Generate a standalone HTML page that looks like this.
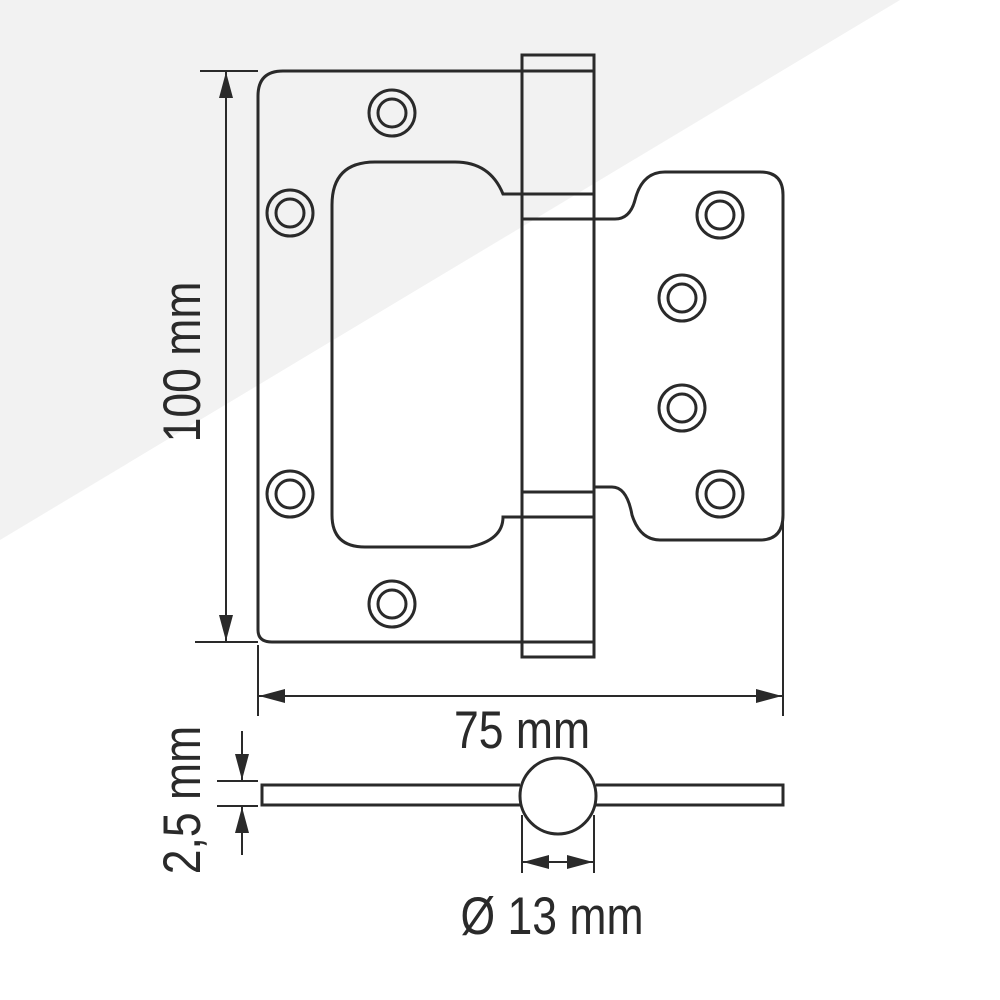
<!DOCTYPE html>
<html><head><meta charset="utf-8"><style>
html,body{margin:0;padding:0;background:#fff;}
svg{display:block;}
text{font-family:"Liberation Sans Narrow","Liberation Sans",sans-serif;fill:#2a2a2a;}
</style></head><body>
<svg width="1000" height="1000" viewBox="0 0 1000 1000">
<polygon points="0,0 900,0 0,540" fill="#f2f2f2"/>
<defs>
<marker id="a" viewBox="0 0 26 14" refX="26" refY="7" markerWidth="26" markerHeight="14" orient="auto-start-reverse" markerUnits="userSpaceOnUse"><path d="M0,0 L26,7 L0,14z" fill="#2a2a2a"/></marker>
</defs>
<g fill="none" stroke="#2a2a2a" stroke-width="3">
<path d="M522,71 L283,71 Q258,71 258,96 L258,630 Q258,642 272,642 L522,642"/>
<line x1="200" y1="71" x2="258" y2="71" stroke-width="2"/>
<line x1="195" y1="642" x2="258" y2="642" stroke-width="2"/>
<path d="M522,194 L503,194 Q490,162 455,162 L375,162 Q332,162 332,205 L332,515 Q332,547 365,547 L470,547 Q503,540 503,517 L522,517"/>
<rect x="522" y="55" width="72" height="602"/>
<line x1="522" y1="71" x2="594" y2="71"/>
<line x1="522" y1="194" x2="594" y2="194"/>
<line x1="522" y1="219" x2="594" y2="219"/>
<line x1="522" y1="492" x2="594" y2="492"/>
<line x1="522" y1="517" x2="594" y2="517"/>
<line x1="522" y1="642" x2="594" y2="642"/>
<path d="M594,219 L615,219 Q630,219 635,200 Q642,172 665,172 L760,172 Q783,172 783,195 L783,515 Q783,540 760,540 L660,540 Q640,540 632,515 Q627,487 612,487 L594,487"/>
<g>
<circle cx="392" cy="113" r="23"/><circle cx="392" cy="113" r="14"/>
<circle cx="290" cy="213" r="23"/><circle cx="290" cy="213" r="14"/>
<circle cx="290" cy="494" r="23"/><circle cx="290" cy="494" r="14"/>
<circle cx="392" cy="604" r="23"/><circle cx="392" cy="604" r="14"/>
<circle cx="720" cy="215" r="23"/><circle cx="720" cy="215" r="14"/>
<circle cx="682" cy="298" r="23"/><circle cx="682" cy="298" r="14"/>
<circle cx="682" cy="408" r="23"/><circle cx="682" cy="408" r="14"/>
<circle cx="720" cy="494" r="23"/><circle cx="720" cy="494" r="14"/>
</g>
<line x1="226" y1="72" x2="226" y2="641" stroke-width="2" marker-start="url(#a)" marker-end="url(#a)"/>
<line x1="258" y1="645" x2="258" y2="716" stroke-width="2"/>
<line x1="783" y1="520" x2="783" y2="716" stroke-width="2"/>
<line x1="259" y1="696" x2="782" y2="696" stroke-width="2" marker-start="url(#a)" marker-end="url(#a)"/>
<path d="M520,785 L262,785 L262,805 L520,805 M596,785 L783,785 L783,805 L596,805"/>
<circle cx="558" cy="796" r="38"/>
<line x1="217" y1="781" x2="258" y2="781" stroke-width="2"/>
<line x1="217" y1="806" x2="258" y2="806" stroke-width="2"/>
<line x1="242" y1="731" x2="242" y2="780" stroke-width="2" marker-end="url(#a)"/>
<line x1="242" y1="855" x2="242" y2="807" stroke-width="2" marker-end="url(#a)"/>
<line x1="522" y1="815" x2="522" y2="873" stroke-width="2"/>
<line x1="594" y1="815" x2="594" y2="873" stroke-width="2"/>
<line x1="523" y1="862" x2="593" y2="862" stroke-width="2" marker-start="url(#a)" marker-end="url(#a)"/>
</g>
<text font-size="53" text-anchor="middle" transform="translate(200,362) rotate(-90) scale(0.84,1)">100 mm</text>
<text font-size="53" text-anchor="middle" transform="translate(522,748) scale(0.84,1)">75 mm</text>
<text font-size="53" text-anchor="middle" transform="translate(200,800) rotate(-90) scale(0.84,1)">2,5 mm</text>
<text font-size="53" text-anchor="middle" transform="translate(552,934) scale(0.84,1)">Ø 13 mm</text>
</svg>
</body></html>
